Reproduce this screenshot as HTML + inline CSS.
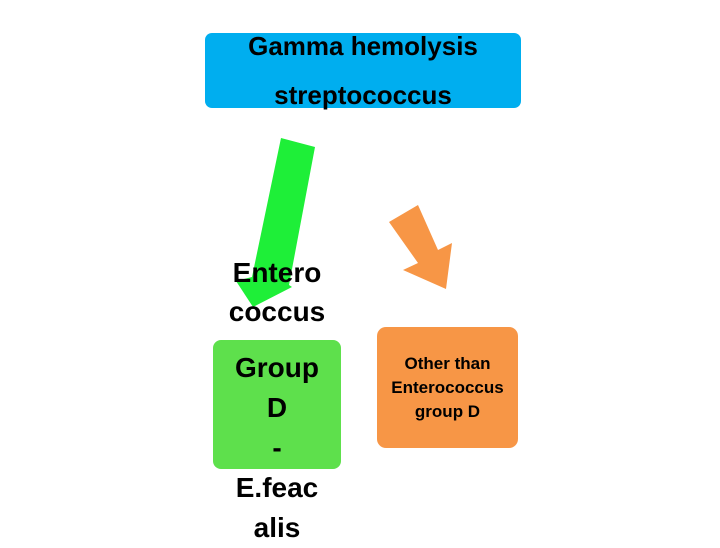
<!DOCTYPE html>
<html><head><style>
body{margin:0;width:720px;height:540px;background:#fff;position:relative;overflow:hidden;font-family:"Liberation Sans",sans-serif;}
.abs{position:absolute}
</style></head><body>
<div class="abs" style="left:205px;top:33px;width:316px;height:75px;background:#00aeef;border-radius:7px;"></div>
<div class="abs" style="left:195px;top:22px;width:336px;text-align:center;font-size:26px;font-weight:bold;line-height:49px;color:#000;">Gamma hemolysis<br>streptococcus</div>
<svg class="abs" style="left:0;top:0" width="720" height="540">
<polygon points="281,138 315,147 289,285 292,287 253,307 236,281 252,277" fill="#1eef38"/>
<polygon points="389,222 418,205 438,250 452,243 446,289 403,270 418,263" fill="#f79646"/>
</svg>
<div class="abs" style="left:213px;top:340px;width:128px;height:129px;background:#5ee04c;border-radius:8px;"></div>
<div class="abs" style="left:193px;top:253px;width:168px;text-align:center;font-size:28px;font-weight:bold;line-height:39px;color:#000;">Entero<br>coccus<br><span style="display:inline-block;margin-top:17px;line-height:40px">Group<br>D<br>-<br>E.feac<br>alis</span></div>
<div class="abs" style="left:377px;top:327px;width:141px;height:121px;background:#f79646;border-radius:9px;"></div>
<div class="abs" style="left:367px;top:352px;width:161px;text-align:center;font-size:17px;font-weight:bold;line-height:24px;color:#000;">Other than<br>Enterococcus<br>group D</div>
</body></html>
